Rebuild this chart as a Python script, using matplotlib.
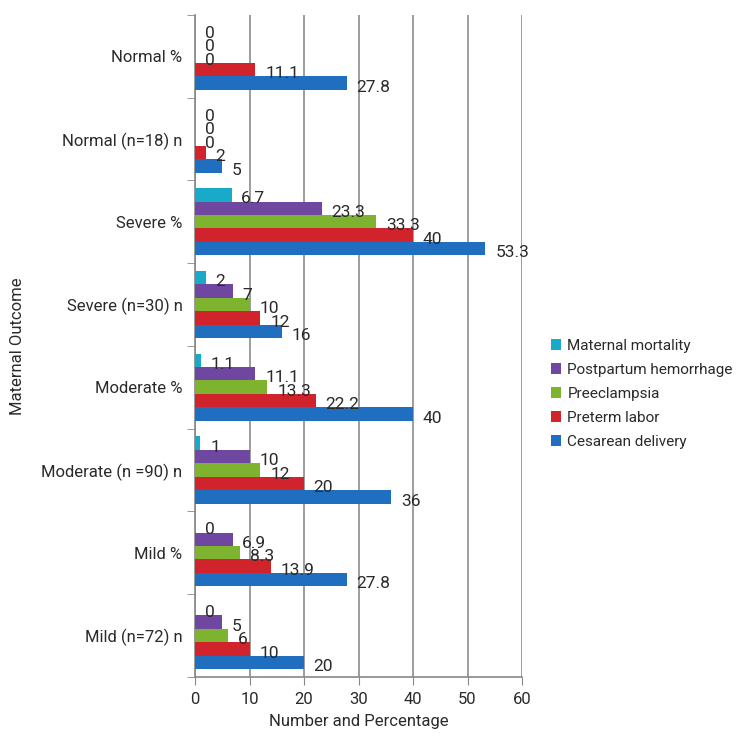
import matplotlib
matplotlib.use("Agg")
import matplotlib.pyplot as plt
import numpy as np
from matplotlib.ticker import FixedLocator

plt.rcParams['font.family'] = ['Roboto', 'DejaVu Sans']

categories = ["Mild (n=72) n", "Mild %", "Moderate (n =90) n", "Moderate %",
              "Severe (n=30) n", "Severe %", "Normal (n=18) n", "Normal %"]
cesarean = [20, 27.8, 36, 40, 16, 53.3, 5, 27.8]
preterm = [10, 13.9, 20, 22.2, 12, 40, 2, 11.1]
preeclampsia = [6, 8.3, 12, 13.3, 10, 33.3, 0, 0]
pph = [5, 6.9, 10, 11.1, 7, 23.3, 0, 0]
mortality = [0, 0, 1, 1.1, 2, 6.7, 0, 0]

series = [
    ("Cesarean delivery", cesarean, "#1f6ebf"),
    ("Preterm labor", preterm, "#d1232b"),
    ("Preeclampsia", preeclampsia, "#7db32f"),
    ("Postpartum hemorrhage", pph, "#6f47a0"),
    ("Maternal mortality", mortality, "#19a9c9"),
]

fig = plt.figure(figsize=(7.5, 7.43), dpi=100)
ax = fig.add_axes([0.26, 0.089, 0.436, 0.891])

y = np.arange(len(categories))
h = 0.163
txt = "#2a2a2a"
for j, (name, vals, col) in enumerate(series):
    pos = y + (j - 2) * h
    ax.barh(pos, vals, height=h, color=col, label=name, zorder=3)
    for p, v in zip(pos, vals):
        ax.annotate(f"{v:g}", (v, p), xytext=(7, -3), textcoords="offset points",
                    ha="left", va="center", fontsize=12.5, color=txt, zorder=4)

ax.set_xlim(0, 60)
ax.set_ylim(-0.5, 7.5)
ax.set_xticks(np.arange(0, 61, 10))
ax.set_yticks(y)
ax.set_yticklabels(categories, fontsize=12, color=txt)
ax.yaxis.set_minor_locator(FixedLocator(np.arange(-0.5, 8, 1)))
ax.tick_params(axis='y', which='major', length=0, pad=9)
ax.tick_params(axis='y', which='minor', length=6, color="#888888")
ax.tick_params(axis='x', length=6, color="#888888", labelsize=12, labelcolor=txt, pad=5)
ax.grid(axis='x', color="#8c8c8c", linewidth=1.2, zorder=0)
for s in ["top", "right"]:
    ax.spines[s].set_visible(False)
for s in ["left", "bottom"]:
    ax.spines[s].set_color("#888888")
    ax.spines[s].set_linewidth(1.2)

ax.set_xlabel("Number and Percentage", fontsize=12, color=txt, labelpad=5)
ax.set_ylabel("Maternal Outcome", fontsize=12, color=txt, labelpad=12)

handles, labels = ax.get_legend_handles_labels()
leg = fig.legend(handles[::-1], labels[::-1], loc="center left",
                 bbox_to_anchor=(0.73, 0.47), frameon=False, fontsize=11,
                 handlelength=0.7, handleheight=0.7, handletextpad=0.4,
                 labelspacing=0.65, borderaxespad=0, borderpad=0.2)
for t in leg.get_texts():
    t.set_color(txt)

fig.savefig("out.png", dpi=100)
